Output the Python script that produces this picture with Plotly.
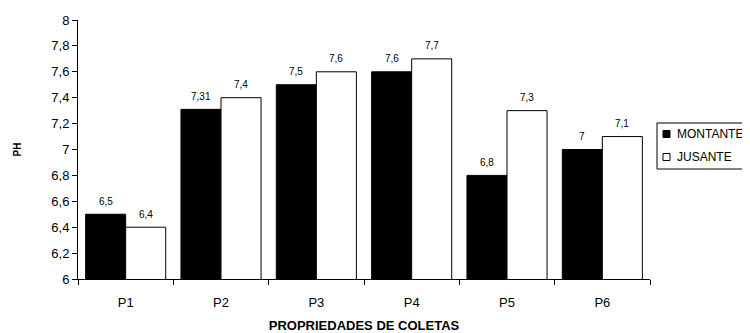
import plotly.graph_objects as go

categories = ["P1", "P2", "P3", "P4", "P5", "P6"]
montante = [6.5, 7.31, 7.5, 7.6, 6.8, 7.0]
jusante = [6.4, 7.4, 7.6, 7.7, 7.3, 7.1]
series_names = ["MONTANTE", "JUSANTE"]

def fmt(v):
    s = ("%g" % v)
    return s.replace(".", ",")

fig = go.Figure()
fig.add_trace(go.Bar(
    x=categories, y=montante, name=series_names[0],
    marker=dict(color="black", line=dict(color="black", width=1)),
    showlegend=False,
))
fig.add_trace(go.Bar(
    x=categories, y=jusante, name=series_names[1],
    marker=dict(color="white", line=dict(color="black", width=1)),
    showlegend=False,
))

# value labels above bars
annotations = []
for vals, shift in ((montante, -20), (jusante, 20)):
    for c, v in zip(categories, vals):
        annotations.append(dict(
            x=c, y=v, xref="x", yref="y", text=fmt(v), showarrow=False,
            xshift=shift, yshift=13, font=dict(size=10, color="black"),
            xanchor="center", yanchor="middle",
        ))

# custom legend (page coords converted to paper coords)
def px(xp):
    return (xp - 78) / 572.0

def py(yp):
    return (279 - yp) / 259.0

shapes = [dict(type="rect", xref="paper", yref="paper",
               x0=px(657), x1=px(770), y0=py(123), y1=py(169),
               line=dict(color="black", width=1), fillcolor="white", layer="above")]
fills = ["black", "white"]
for i, (nm, fc) in enumerate(zip(series_names, fills)):
    yc = 134 + i * 23
    shapes.append(dict(type="rect", xref="paper", yref="paper",
                       x0=px(663), x1=px(670), y0=py(yc + 3.5), y1=py(yc - 3.5),
                       line=dict(color="black", width=1), fillcolor=fc, layer="above"))
    annotations.append(dict(x=px(675), y=py(yc), xref="paper", yref="paper",
                            text=nm, showarrow=False, xanchor="left", yanchor="middle",
                            font=dict(size=12, color="black")))

fig.update_layout(
    width=750, height=333,
    margin=dict(l=70, r=108, t=12, b=62, autoexpand=False),
    paper_bgcolor="white", plot_bgcolor="white",
    font=dict(family="Liberation Sans, Arial", color="black"),
    separators=",.",
    barmode="group", bargap=0.16, bargroupgap=0,
    showlegend=False,
    shapes=shapes,
    annotations=annotations,
    xaxis=dict(
        showline=True, linecolor="black", linewidth=1,
        ticks="outside", ticklen=5, tickcolor="black", tickson="boundaries",
        tickfont=dict(size=13), automargin=False, ticklabelstandoff=11,
        title=dict(text="<b>PROPRIEDADES DE COLETAS</b>", font=dict(size=13), standoff=12),
        showgrid=False,
    ),
    yaxis=dict(
        range=[6, 8], dtick=0.2, tick0=6,
        showline=True, linecolor="black", linewidth=1,
        ticks="outside", ticklen=5, tickcolor="black",
        tickfont=dict(size=13), automargin=False,
        title=dict(text="<b>PH</b>", font=dict(size=10), standoff=27),
        showgrid=False, zeroline=False,
    ),
)

fig.write_html("out.html")
